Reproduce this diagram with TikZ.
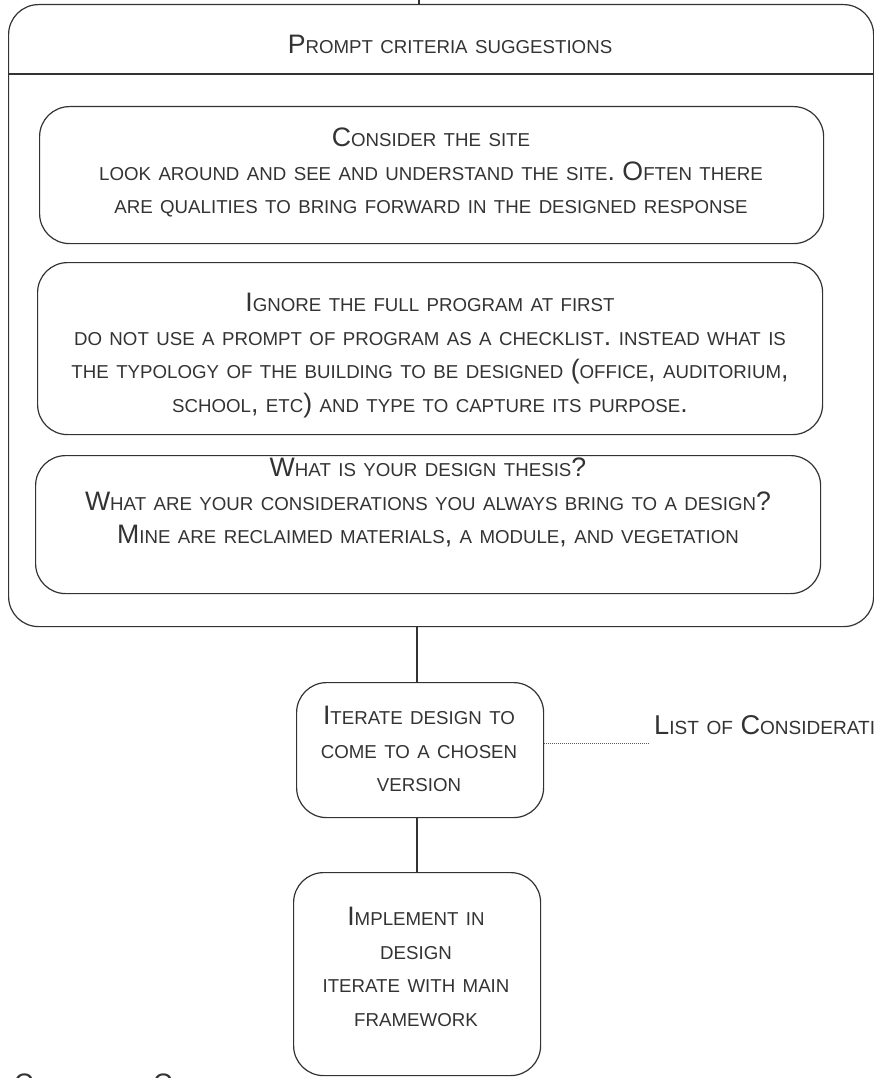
\documentclass[tikz,border=0pt]{standalone}
\usepackage{fontspec}
\setmainfont{Liberation Sans}

% Synthetic small caps: lowercase letters are set as smaller capitals,
% everything else (capitals, punctuation, spaces) keeps the full size.
\newcommand\fscsmall{\fontsize{0.7\dimexpr\csname f@size\endcsname pt\relax}{33.5pt}\selectfont}
\ExplSyntaxOn
\seq_new:N \l__fsc_seq
\bool_new:N \l__fsc_bool
\cs_new_protected:Npn \__fsc_char:n #1
  {
    \tl_if_in:nnTF { abcdefghijklmnopqrstuvwxyz } {#1}
      { { \fscsmall \uppercase {#1} } }
      {#1}
  }
\NewDocumentCommand \fsc { m }
  {
    \seq_set_split:Nnn \l__fsc_seq { ~ } {#1}
    \bool_set_false:N \l__fsc_bool
    \seq_map_inline:Nn \l__fsc_seq
      {
        \bool_if:NT \l__fsc_bool { \c_space_tl }
        \bool_set_true:N \l__fsc_bool
        \tl_map_inline:nn {##1} { \__fsc_char:n {####1} }
      }
  }
\ExplSyntaxOff

\definecolor{ink}{HTML}{333333}

\tikzset{
  frame/.style={draw=ink, line width=1.2pt, rounded corners=30pt, inner sep=0pt, anchor=north west},
  label/.style={text=ink, inner sep=0pt, align=center, font=\fontsize{26.7pt}{33.5pt}\selectfont},
  widelabel/.style={label, font=\fontsize{27.2pt}{33.5pt}\selectfont},
  link/.style={draw=ink, line width=1.2pt},
  dotlink/.style={draw=ink!80, line width=0.9pt, dash pattern=on 1pt off 1pt}
}

\begin{document}
\begin{tikzpicture}[x=1pt, y=-1pt]
\clip[use as bounding box] (0,0) rectangle (874,1078);

% outer container with its title bar
\node[frame, minimum width=865pt, minimum height=622pt] (outer) at (8,4) {};
\draw[link] ([yshift=-70pt]outer.north west) -- ([yshift=-70pt]outer.north east);
\node[label, anchor=north] (title) at (450,35) {\fsc{Prompt criteria suggestions}};

% the three suggestion boxes
\node[frame, minimum width=784pt, minimum height=137pt] (site) at (39,106) {};
\node[label, anchor=north] (sitetext) at (431,128)
  {\fsc{Consider the site}\\
   \fsc{look around and see and understand the site. Often there}\\
   \fsc{are qualities to bring forward in the designed response}};

\node[frame, minimum width=785pt, minimum height=172pt] (program) at (37,262) {};
\node[label, anchor=north] (programtext) at (430,293)
  {\fsc{Ignore the full program at first}\\
   \fsc{do not use a prompt of program as a checklist. instead what is}\\
   \fsc{the typology of the building to be designed (office, auditorium,}\\
   \fsc{school, etc) and type to capture its purpose.}};

\node[frame, minimum width=785pt, minimum height=138pt] (thesis) at (35,455) {};
\node[label, anchor=north] (thesistext) at (428,458)
  {\fsc{What is your design thesis?}\\
   \fsc{What are your considerations you always bring to a design?}\\
   \fsc{Mine are reclaimed materials, a module, and vegetation}};

% process steps below the container
\node[frame, minimum width=247pt, minimum height=135pt] (iter) at (296,682) {};
\node[label, anchor=north] (itertext) at (419,706)
  {\fsc{Iterate design to}\\ \fsc{come to a chosen}\\ \fsc{version}};

\node[frame, minimum width=247pt, minimum height=203pt] (impl) at (293,872) {};
\node[label, anchor=north] (impltext) at (416,907)
  {\fsc{Implement in}\\ \fsc{design}\\ \fsc{iterate with main}\\ \fsc{framework}};

\node[widelabel, anchor=north west] (consid) at (654,715) {\fsc{List of Considerations}};
\node[label, anchor=north west] (concept) at (14,1074) {\fsc{Contextual Considerations}};

% connectors
\coordinate (topc) at (419,0);
\coordinate (spine) at (417,0);
\coordinate (dotend) at (650,743);
\draw[link] (topc) -- (topc |- outer.north);
\draw[link] (outer.south -| spine) -- (iter.north -| spine);
\draw[link] (iter.south -| spine) -- (impl.north -| spine);
\draw[dotlink] (iter.east |- dotend) -- (dotend);
\end{tikzpicture}
\end{document}
